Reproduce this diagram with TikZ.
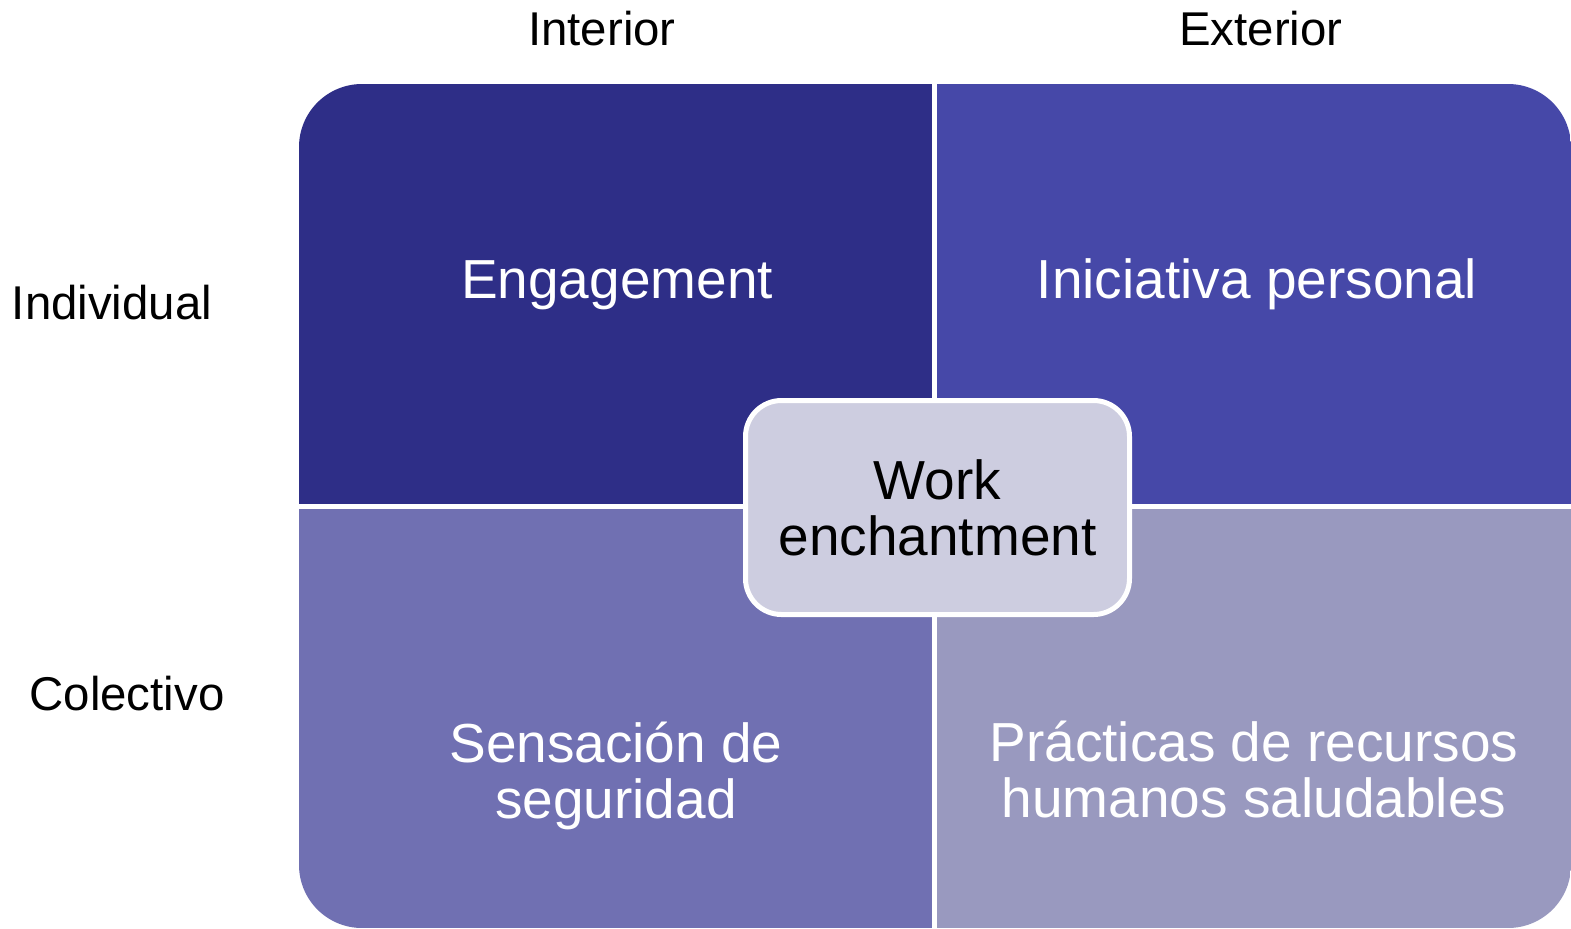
\documentclass[tikz,border=0pt]{standalone}
\usepackage{fontspec}
\setmainfont{Liberation Sans}
\usepackage{xcolor}
\usepackage{tikz}
\definecolor{quadTL}{HTML}{2E2E87}
\definecolor{quadTR}{HTML}{4648A8}
\definecolor{quadBL}{HTML}{7070B2}
\definecolor{quadBR}{HTML}{9999BF}
\definecolor{coreFill}{HTML}{CDCDE0}

\begin{document}
\begin{tikzpicture}[x=0.5pt,y=-0.5pt,
  axislabel/.style={font=\fontsize{23.7}{26}\selectfont, anchor=base, inner sep=0pt},
  quadtext/.style={font=\fontsize{27.5}{28}\selectfont, text=white, align=center, inner sep=0pt},
  corebox/.style={draw=white, line width=2.5pt, fill=coreFill, rounded corners=18pt,
    minimum width=192pt, minimum height=107pt, align=center,
    font=\fontsize{27.5}{28}\selectfont}]
\useasboundingbox (0,0) rectangle (1571,928);

% four quadrants, one outer rounded shape
\begin{scope}
\clip[rounded corners=31.5pt] (299,84) rectangle (1571,928);
\fill[quadTL] (299,84) rectangle (932,504);
\fill[quadTR] (937,84) rectangle (1571,504);
\fill[quadBL] (299,509) rectangle (932,928);
\fill[quadBR] (937,509) rectangle (1571,928);
\end{scope}

% axis labels
\node[axislabel] (interior) at (602,45) {Interior};
\node[axislabel] (exterior) at (1261,45) {Exterior};
\node[axislabel] (individual) at (112,319) {Individual};
\node[axislabel] (colectivo) at (127,710) {Colectivo};

% quadrant texts
\node[quadtext, anchor=base] (engage) at (617,298) {Engagement};
\node[quadtext, anchor=base] (initiative) at (1257,298) {Iniciativa personal};
\node[quadtext] (security) at (616,776) {Sensación de\\seguridad};
\node[quadtext] (practices) at (1254,770) {Prácticas de recursos\\humanos saludables};

% centre
\node[corebox] (core) at (937.5,507.5) {Work\\enchantment};

\end{tikzpicture}
\end{document}
